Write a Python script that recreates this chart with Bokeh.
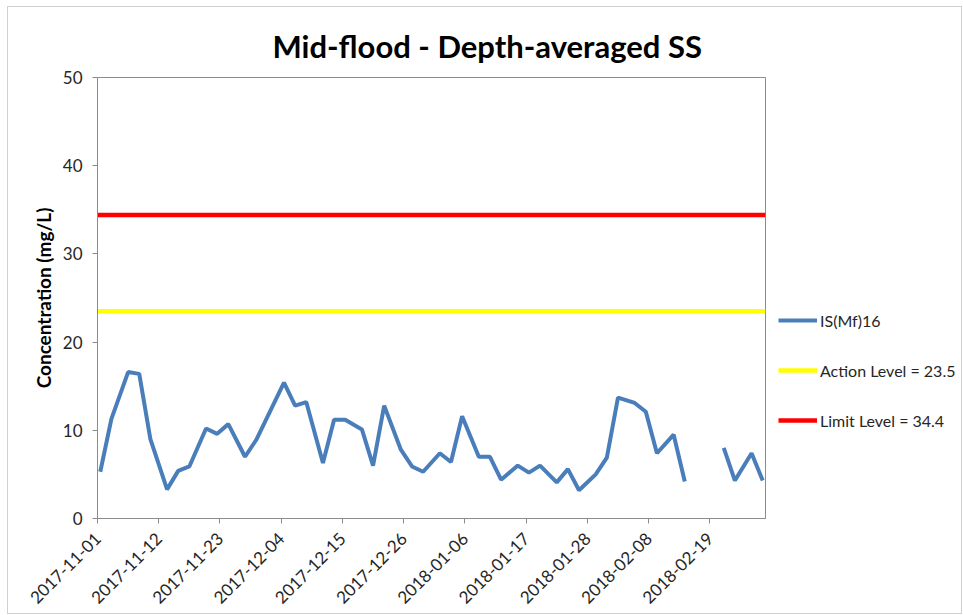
import numpy as np
import pandas as pd
from bokeh.plotting import figure
from bokeh.layouts import row
from bokeh.models import Range1d, FixedTicker, Legend, LegendItem
from bokeh.embed import file_html
from bokeh.resources import INLINE

# ---- data ----
dates = ["2017-11-01", "2017-11-03", "2017-11-06", "2017-11-08", "2017-11-10",
         "2017-11-13", "2017-11-15", "2017-11-17", "2017-11-20", "2017-11-22",
         "2017-11-24", "2017-11-27", "2017-11-29", "2017-12-01", "2017-12-04",
         "2017-12-06", "2017-12-08", "2017-12-11", "2017-12-13", "2017-12-15",
         "2017-12-18", "2017-12-20", "2017-12-22", "2017-12-25", "2017-12-27",
         "2017-12-29", "2018-01-01", "2018-01-03", "2018-01-05", "2018-01-08",
         "2018-01-10", "2018-01-12", "2018-01-15", "2018-01-17", "2018-01-19",
         "2018-01-22", "2018-01-24", "2018-01-26", "2018-01-29", "2018-01-31",
         "2018-02-02", "2018-02-05", "2018-02-07", "2018-02-09", "2018-02-12",
         "2018-02-14", "2018-02-16", "2018-02-19", "2018-02-21", "2018-02-23",
         "2018-02-26", "2018-02-28"]
is_mf16 = [5.3, 11.3, 16.6, 16.4, 9.0, 3.3, 5.4, 5.9, 10.2, 9.6,
           10.7, 7.0, 8.9, 11.5, 15.4, 12.8, 13.2, 6.3, 11.2, 11.2,
           10.1, 6.0, 12.8, 7.8, 5.9, 5.3, 7.4, 6.4, 11.6, 7.0,
           7.0, 4.4, 6.0, 5.2, 6.0, 4.1, 5.6, 3.2, 5.0, 6.9,
           13.7, 13.1, 12.1, 7.4, 9.5, 4.2, np.nan, np.nan, 8.0, 4.3,
           7.4, 4.3]
action_level = 23.5
limit_level = 34.4
series_names = ["IS(Mf)16", "Action Level = 23.5", "Limit Level = 34.4"]
tick_dates = ["2017-11-01", "2017-11-12", "2017-11-23", "2017-12-04", "2017-12-15",
              "2017-12-26", "2018-01-06", "2018-01-17", "2018-01-28", "2018-02-08",
              "2018-02-19"]
y_ticks = [0, 10, 20, 30, 40, 50]

FONT = "Lato"
TXT = "#262626"
AX = "#8c8c8c"
C_SERIES = "#4A7EBB"
C_ACTION = "#FFFF00"
C_LIMIT = "#FF0000"

x = pd.to_datetime(dates)
half_day = pd.Timedelta(hours=12)
x_start = x[0] - half_day
x_end = x[-1] + half_day

p = figure(width=758, height=606, x_axis_type="datetime",
           x_range=Range1d(x_start, x_end), y_range=Range1d(0, 50),
           output_backend="svg", toolbar_location=None,
           min_border_left=89, min_border_right=1,
           min_border_top=70, min_border_bottom=95)

p.line(x, is_mf16, line_color=C_SERIES, line_width=4)
p.line([x_start, x_end], [action_level, action_level], line_color=C_ACTION, line_width=4.5)
p.line([x_start, x_end], [limit_level, limit_level], line_color=C_LIMIT, line_width=4.5)

# title
p.title.text = "Mid-flood - Depth-averaged SS"
p.title.text_font = FONT
p.title.text_font_size = "31px"
p.title.text_font_style = "bold"
p.title.text_color = "#000000"
p.title.align = "left"
p.title.offset = 175
p.title.standoff = 25

# grid / frame
p.grid.visible = False
p.outline_line_color = AX
p.outline_line_width = 1
p.background_fill_color = "white"
p.border_fill_color = "white"

# x axis
tick_ms = [(pd.Timestamp(t) - half_day).value / 1e6 for t in tick_dates]
p.xaxis.ticker = FixedTicker(ticks=tick_ms, minor_ticks=[])
p.xaxis.major_label_overrides = {tm: t for tm, t in zip(tick_ms, tick_dates)}
p.xaxis.major_label_orientation = np.pi / 4
p.xaxis.major_label_text_font = FONT
p.xaxis.major_label_text_font_size = "17px"
p.xaxis.major_label_text_color = TXT
p.xaxis.major_label_standoff = 12
p.xaxis.axis_line_color = AX
p.xaxis.major_tick_line_color = AX
p.xaxis.major_tick_in = 0
p.xaxis.major_tick_out = 5
p.xaxis.minor_tick_line_color = None

# y axis
p.yaxis.ticker = FixedTicker(ticks=y_ticks, minor_ticks=[])
p.yaxis.major_label_text_font = FONT
p.yaxis.major_label_text_font_size = "17px"
p.yaxis.major_label_text_color = TXT
p.yaxis.major_label_standoff = 10
p.yaxis.axis_line_color = AX
p.yaxis.major_tick_line_color = AX
p.yaxis.major_tick_in = 0
p.yaxis.major_tick_out = 5
p.yaxis.minor_tick_line_color = None
p.yaxis.axis_label = "Concentration (mg/L)"
p.yaxis.axis_label_text_font = FONT
p.yaxis.axis_label_text_font_size = "19px"
p.yaxis.axis_label_text_font_style = "bold"
p.yaxis.axis_label_text_color = "#000000"
p.yaxis.axis_label_standoff = 5

# legend panel (separate figure to the right of the plot area);
# its renderers hold the real series but the range keeps them out of view
lg = figure(width=195, height=606, output_backend="svg", toolbar_location=None,
            x_axis_location=None, y_axis_location=None,
            x_range=Range1d(0, 1), y_range=Range1d(0, 1),
            min_border=0, outline_line_color=None)
lg.grid.visible = False
l1 = lg.line(x, is_mf16, line_color=C_SERIES, line_width=4)
l2 = lg.line([x_start, x_end], [action_level, action_level], line_color=C_ACTION, line_width=4.5)
l3 = lg.line([x_start, x_end], [limit_level, limit_level], line_color=C_LIMIT, line_width=4.5)
legend = Legend(items=[
    LegendItem(label=series_names[0], renderers=[l1]),
    LegendItem(label=series_names[1], renderers=[l2]),
    LegendItem(label=series_names[2], renderers=[l3]),
], location=(12, 88))
legend.label_text_font = FONT
legend.label_text_font_size = "16px"
legend.label_text_color = TXT
legend.glyph_width = 39
legend.glyph_height = 20
legend.spacing = 30
legend.padding = 0
legend.margin = 0
legend.label_standoff = 3
legend.border_line_color = None
legend.background_fill_alpha = 0
lg.add_layout(legend)

layout = row(p, lg)
layout.styles = {"border": "1px solid #d0d0d0", "margin-left": "7px", "margin-top": "6px"}

open("out.html", "w").write(file_html(layout, INLINE))
